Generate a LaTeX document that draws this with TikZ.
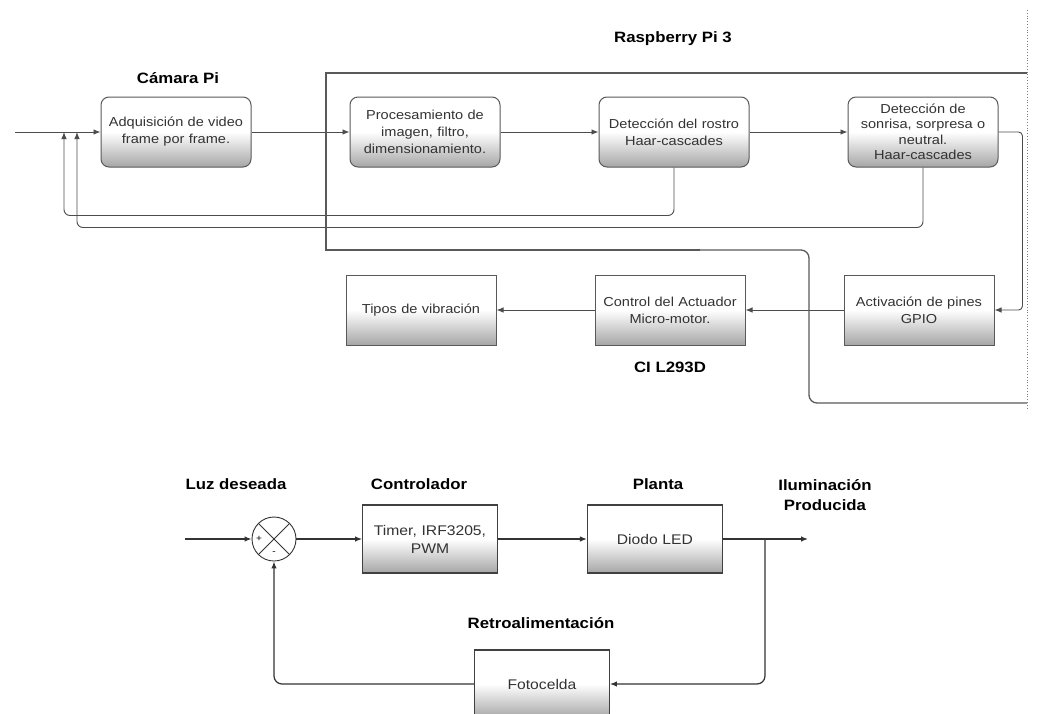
\documentclass[tikz,border=0pt]{standalone}
\usepackage{fontspec}
\setmainfont{Liberation Sans}[FakeStretch=1.12]
\usetikzlibrary{positioning,arrows.meta}
\tikzset{node distance=98pt, >={Latex[length=7pt,width=5.5pt]},
  rbox/.style={draw=black!65, line width=1pt, rounded corners=8pt,
    minimum width=150pt, minimum height=70pt, text width=140pt, align=center,
    top color=white, bottom color=black!35, middle color=white,
    text=black!80, font=\fontsize{13}{17}\selectfont},
  sbox/.style={rbox, sharp corners},
  bbox/.style={sbox, draw=black!75, line width=1.2pt, minimum width=134pt,
    minimum height=68pt, text width=128pt, font=\fontsize{14}{18}\selectfont},
  lbl/.style={font=\fontsize{15}{18}\selectfont\bfseries, align=center},
  sumc/.style={draw=black!80, circle, minimum size=44pt, inner sep=0pt, line width=0.9pt},
  sgn/.style={font=\fontsize{9}{9}\selectfont, inner sep=0pt},
  wire/.style={draw=black!70, line width=0.9pt},
  wirex/.style={draw=black!80, line width=1.2pt},
  marco/.style={draw=black!65, line width=1.3pt}
}
\begin{document}
\begin{tikzpicture}[x=1pt,y=-1pt]
  \useasboundingbox (0,0) rectangle (1037,713);

  % camara y raspberry
  \node[rbox] (cam) at (176,132) {Adquisición de video\\frame por frame.};
  \node[rbox] (proc) [right=of cam] {Procesamiento de\\imagen, filtro,\\dimensionamiento.};
  \node[rbox] (rostro) [right=of proc] {Detección del rostro\\Haar-cascades};
  \node[rbox, inner sep=1pt, font=\fontsize{13}{15.5}\selectfont] (sonrisa) [right=of rostro]
    {Detección de\\sonrisa, sorpresa o\\neutral.\\Haar-cascades};

  \node[sbox] (gpio) at (919,310) {Activación de pines\\GPIO};
  \node[sbox] (ctrl) [left=of gpio] {Control del Actuador\\Micro-motor.};
  \node[sbox] (tipos) [left=of ctrl] {Tipos de vibración};

  \node[lbl] (camlbl) at (178,78) {Cámara Pi};
  \node[lbl] (rpilbl) at (673,39) {Raspberry Pi 3};
  \node[lbl] (cilbl) [below=13pt of ctrl] {CI L293D};

  \coordinate (ent) at (15,132);
  \coordinate (fbA) at (64,132);
  \coordinate (fbB) at (77,132);

  \draw[wire,->] (ent) -- (cam);
  \draw[wire,->] (cam) -- (proc);
  \draw[wire,->] (proc) -- (rostro);
  \draw[wire,->] (rostro) -- (sonrisa);
  \draw[wire,->,rounded corners=6pt] (rostro.south) -- ++(0,48) -| (fbA);
  \draw[wire,->,rounded corners=6pt] (sonrisa.south) -- ++(0,60) -| (fbB);
  \draw[wire,->,rounded corners=4pt] (sonrisa.east) -- ++(24,0) |- (gpio.east);
  \draw[wire,->] (gpio) -- (ctrl);
  \draw[wire,->] (ctrl) -- (tipos);

  % limite raspberry
  \draw[marco] (1027,73) -- (326,73) -- (326,250) -- (700,250);
  \draw[marco,rounded corners=8pt] (690,250) -- (809,250) -- (809,403) -- (1027,403);
  \draw[black!50, dotted, line width=0.8pt] (1027,10) -- (1027,410);

  % lazo de luz
  \node[sumc] (sum) at (274,539) {};
  \draw[black!80, line width=0.9pt] (sum.north west) -- (sum.south east)
    (sum.north east) -- (sum.south west);
  \node[sgn] (mas) at (259,539) {+};
  \node[sgn] (menos) at (274,553) {-};

  \node[bbox] (contr) at (430,539) {Timer, IRF3205,\\PWM};
  \node[bbox] (led) [right=89pt of contr] {Diodo LED};
  \node[bbox] (foto) at (542,684) {Fotocelda};

  \node[lbl] (luzlbl) at (236,484) {Luz deseada};
  \node[lbl] (contlbl) at (419,484) {Controlador};
  \node[lbl] (plantalbl) at (658,484) {Planta};
  \node[lbl, font=\fontsize{15}{20}\selectfont\bfseries] (ilumlbl) at (825,495) {Iluminación\\Producida};
  \node[lbl] (retrolbl) at (541,623) {Retroalimentación};

  \coordinate (ent2) at (185,539);
  \coordinate (sal) at (808,539);
  \coordinate (rama) at (765,539);

  \draw[wirex,->] (ent2) -- (sum);
  \draw[wirex,->] (sum) -- (contr);
  \draw[wirex,->] (contr) -- (led);
  \draw[wirex,->] (led) -- (sal);
  \draw[wirex,->,rounded corners=8pt] (rama) |- (foto);
  \draw[wirex,->,rounded corners=8pt] (foto) -| (sum);
\end{tikzpicture}
\end{document}
